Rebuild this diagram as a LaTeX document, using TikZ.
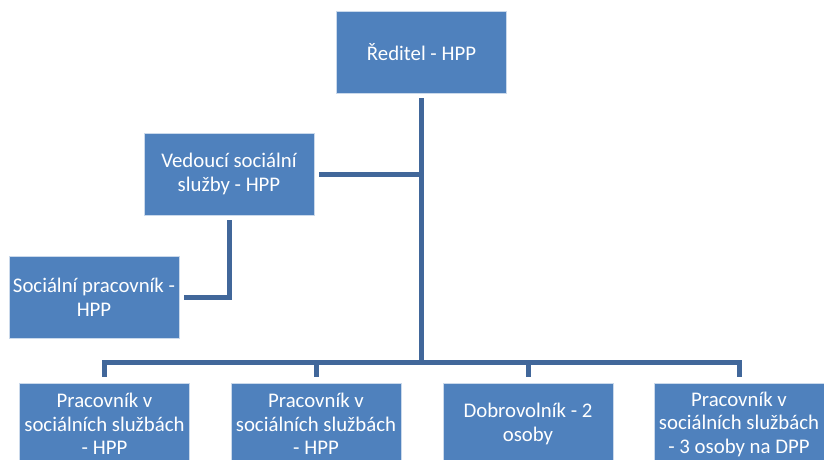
\documentclass[tikz,border=0pt]{standalone}
\usepackage{fontspec}
\setmainfont{Carlito}
\usepackage{xcolor}
\usepackage{tikz}
\definecolor{boxblue}{HTML}{4F81BD}
\definecolor{connblue}{HTML}{41679A}
\tikzset{
  unit/.style={rectangle, fill=boxblue, draw=white!70!boxblue, line width=0.6pt,
    minimum width=170pt, minimum height=82pt, inner sep=2pt,
    align=center, text=white, font=\fontsize{20.8}{23.5}\selectfont},
  conn/.style={draw=connblue, line width=5pt}
}

\begin{document}
\begin{tikzpicture}[x=1pt,y=-1pt]
  \clip (0,0) rectangle (824,459);
  \fill[white] (0,0) rectangle (824,459);

  \node[unit] (dir) at (421.5,52) {Ředitel - HPP};
  \node[unit] (ved) at (229,174) {Vedoucí sociální\\služby - HPP};
  \node[unit] (soc) at (94,297.5) {Sociální pracovník -\\HPP};

  \node[unit] (p1) at (104.5,424) {Pracovník v\\sociálních službách\\- HPP};
  \node[unit] (p2) at (316,424) {Pracovník v\\sociálních službách\\- HPP};
  \node[unit] (p3) at (528,424) {Dobrovolník - 2\\osoby};
  \node[unit] (p4) at (739,424) {Pracovník v\\sociálních službách\\- 3 osoby na DPP};

  \coordinate (bus) at (421.5,362.5);

  % trunk and branches
  \draw[conn] ([yshift=-5pt]dir.south) -- (bus);
  \draw[conn] ([xshift=5pt]ved.east) -- (ved.east -| bus);
  \draw[conn] ([yshift=-5pt]ved.south) |- ([xshift=5pt]soc.east);

  \draw[conn] ([yshift=6pt]p1.north) |- (bus) -| ([yshift=6pt]p4.north);
  \draw[conn] ([yshift=6pt]p2.north) -- (p2.north |- bus);
  \draw[conn] ([yshift=6pt]p3.north) -- (p3.north |- bus);
\end{tikzpicture}
\end{document}
